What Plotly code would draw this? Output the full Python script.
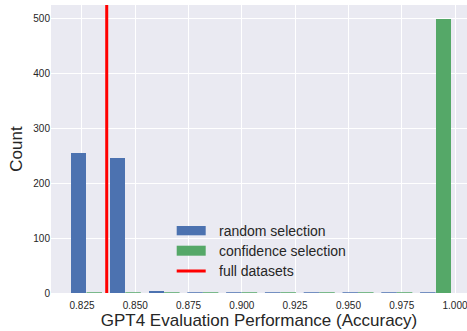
import numpy as np
import plotly.graph_objects as go

# Histogram counts per accuracy bin (10 equal bins between bin_lo and bin_hi)
bin_lo = 0.818
bin_hi = 1.0
n_bins = 10
random_counts = [255, 246, 3, 0, 0, 0, 0, 0, 0, 0]
confidence_counts = [0, 0, 0, 0, 0, 0, 0, 0, 0, 500]
full_dataset_acc = 0.8366

series_names = ["random selection", "confidence selection", "full datasets"]
x_ticks = [0.825, 0.850, 0.875, 0.900, 0.925, 0.950, 0.975, 1.000]
y_ticks = [0, 100, 200, 300, 400, 500]

BLUE = "#4C72B0"
GREEN = "#55A868"
RED = "#FF0000"
FONT = "Liberation Sans, Arial, sans-serif"
TXT = "#262626"

edges = np.linspace(bin_lo, bin_hi, n_bins + 1)
bw = edges[1] - edges[0]
left = edges[:-1]
# two datasets side by side in each bin, 80% of bin width used
blue_x = left + 0.3 * bw
green_x = left + 0.7 * bw
bar_w = 0.4 * bw

fig = go.Figure()
fig.add_trace(go.Bar(x=blue_x, y=random_counts, width=bar_w,
                     marker=dict(color=BLUE, line=dict(width=0)),
                     name=series_names[0], showlegend=False))
fig.add_trace(go.Bar(x=green_x, y=confidence_counts, width=bar_w,
                     marker=dict(color=GREEN, line=dict(width=0)),
                     name=series_names[1], showlegend=False))


def zero_segments(centers, counts):
    xs, ys = [], []
    for c, v in zip(centers, counts):
        if v == 0:
            xs += [c - bar_w / 2, c + bar_w / 2, None]
            ys += [0, 0, None]
    return xs, ys


# empty bins still leave a thin edge on the baseline
for centers, counts, col in [(blue_x, random_counts, BLUE),
                             (green_x, confidence_counts, GREEN)]:
    zx, zy = zero_segments(centers, counts)
    fig.add_trace(go.Scatter(x=zx, y=zy, mode="lines",
                             line=dict(color=col, width=1.5),
                             showlegend=False, hoverinfo="skip",
                             cliponaxis=False))

# reference accuracy on the full dataset
fig.add_shape(type="line", xref="x", yref="paper",
              x0=full_dataset_acc, x1=full_dataset_acc, y0=0, y1=1,
              line=dict(color=RED, width=3))

# legend drawn in paper coordinates
W, H = 467, 331
ML, MR, MT, MB = 51, 0, 5, 38
PW, PH = W - ML - MR, H - MT - MB


def px(xp):
    return (xp - ML) / PW


def py(yp):
    return (H - MB - yp) / PH


fig.add_shape(type="rect", xref="paper", yref="paper",
              x0=px(176.7), x1=px(205.7), y0=py(235.3), y1=py(226),
              fillcolor=BLUE, line=dict(width=0))
fig.add_shape(type="rect", xref="paper", yref="paper",
              x0=px(176.7), x1=px(205.7), y0=py(255.7), y1=py(245.7),
              fillcolor=GREEN, line=dict(width=0))
fig.add_shape(type="line", xref="paper", yref="paper",
              x0=px(176.7), x1=px(205.7), y0=py(271), y1=py(271),
              line=dict(color=RED, width=3))
for name, yc in zip(series_names, [231, 251, 271]):
    fig.add_annotation(xref="paper", yref="paper", x=px(216.5), y=py(yc),
                       text=name, showarrow=False, xanchor="left",
                       yanchor="middle",
                       font=dict(family=FONT, size=14, color=TXT))

fig.update_layout(
    width=W, height=H,
    margin=dict(l=ML, r=MR, t=MT, b=MB, pad=0),
    paper_bgcolor="white",
    plot_bgcolor="#EAEAF2",
    bargap=0,
    barmode="overlay",
    font=dict(family=FONT, color=TXT),
    xaxis=dict(range=[0.81046, 1.00563], tickvals=x_ticks,
               tickformat=".3f", showgrid=True, gridcolor="white",
               gridwidth=1, zeroline=False, showline=False,
               ticks="outside", ticklen=3, tickcolor="rgba(0,0,0,0)",
               ticklabeloverflow="allow",
               tickfont=dict(size=10, color=TXT),
               title=dict(text="GPT4 Evaluation Performance (Accuracy)",
                          font=dict(size=17, color=TXT), standoff=0)),
    yaxis=dict(range=[0, 525], tickvals=y_ticks, showgrid=True,
               gridcolor="white", gridwidth=1, zeroline=False,
               showline=False, ticks="",
               tickfont=dict(size=10, color=TXT),
               title=dict(text="Count", font=dict(size=17, color=TXT),
                          standoff=6)),
)

fig.write_html("out.html")
